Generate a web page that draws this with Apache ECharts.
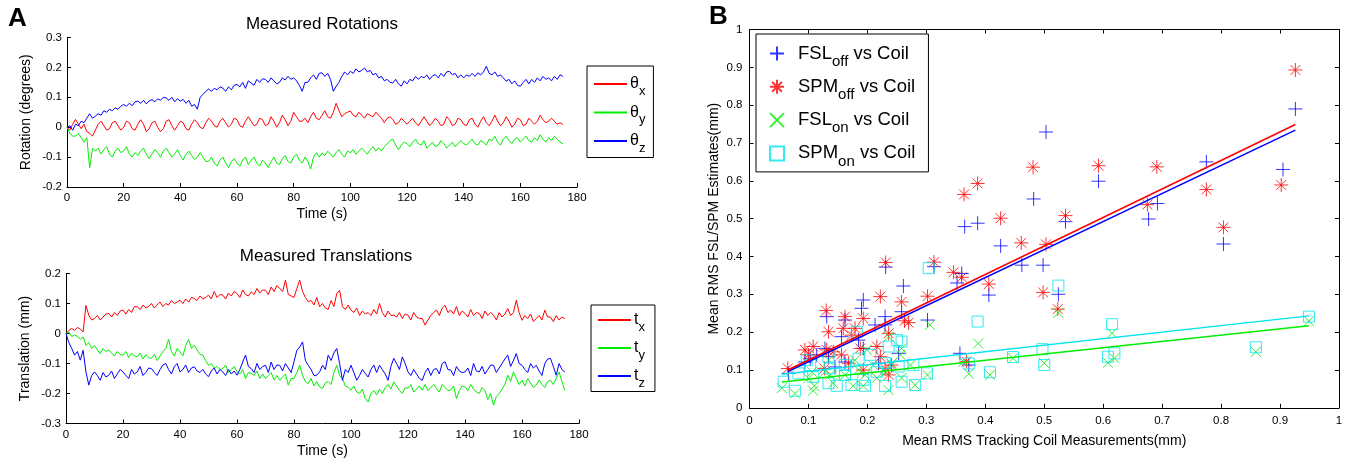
<!DOCTYPE html>
<html><head><meta charset="utf-8">
<script src="https://cdn.jsdelivr.net/npm/echarts@6/dist/echarts.min.js"></script>
<style>html,body{margin:0;padding:0;background:#fff}#c{width:1349px;height:462px}</style>
</head><body><div id="c"></div>
<script>
// ---- Panel A: rotations (degrees), one value per second, t = 0..175 s
const thetaX = [
0,-0.01,0.01,0.026,0.01,-0.005,0.01,-0.015,-0.02,-0.03,
-0.01,0.01,0.02,0.005,-0.01,-0.005,0.015,0.02,0.005,-0.01,
0.0,0.02,0.015,-0.005,-0.01,0.01,0.025,0.01,-0.015,-0.005,
0.015,0.02,0.0,-0.015,-0.005,0.02,0.025,0.005,-0.01,0.005,
0.02,0.015,-0.005,-0.01,0.01,0.025,0.015,0.0,-0.005,0.015,
0.03,0.02,0.005,0.0,0.02,0.03,0.015,0.0,0.01,0.03,
0.025,0.005,0.0,0.02,0.035,0.02,0.005,0.01,0.03,0.025,
0.005,0.01,0.035,0.02,0.0,0.015,0.04,0.025,0.005,0.02,
0.05,0.035,0.02,0.02,0.03,0.015,0.035,0.05,0.03,0.025,
0.04,0.055,0.035,0.03,0.05,0.08,0.055,0.035,0.045,0.05,
0.054,0.04,0.035,0.05,0.04,0.03,0.045,0.04,0.035,0.05,
0.04,0.03,0.015,0.03,0.035,0.026,0.01,0.015,0.03,0.02,
0.01,0.02,0.03,0.015,0.005,0.02,0.035,0.02,0.005,0.015,
0.03,0.02,0.005,0.01,0.035,0.025,0.005,0.01,0.03,0.025,
0.01,0.005,0.025,0.03,0.01,0.0,0.02,0.035,0.015,0.005,
0.02,0.04,0.02,0.005,0.015,0.035,0.02,0.0,0.01,0.03,
0.025,0.005,0.01,0.03,0.02,0.01,0.02,0.04,0.025,0.015,
0.02,0.03,0.02,0.01,0.015,0.009];
const thetaY = [
0,-0.02,-0.03,-0.03,-0.02,-0.035,-0.05,-0.035,-0.136,-0.07,
-0.08,-0.07,-0.09,-0.075,-0.065,-0.09,-0.1,-0.08,-0.07,-0.085,
-0.08,-0.065,-0.09,-0.1,-0.085,-0.095,-0.08,-0.07,-0.09,-0.105,
-0.09,-0.075,-0.085,-0.1,-0.08,-0.07,-0.085,-0.1,-0.09,-0.075,
-0.095,-0.11,-0.09,-0.08,-0.095,-0.108,-0.1,-0.085,-0.1,-0.115,
-0.114,-0.1,-0.12,-0.13,-0.11,-0.1,-0.12,-0.135,-0.115,-0.105,
-0.12,-0.13,-0.11,-0.1,-0.125,-0.11,-0.1,-0.12,-0.13,-0.11,
-0.12,-0.135,-0.115,-0.1,-0.12,-0.125,-0.105,-0.095,-0.115,-0.12,
-0.1,-0.09,-0.11,-0.12,-0.1,-0.115,-0.14,-0.1,-0.085,-0.1,
-0.086,-0.095,-0.08,-0.09,-0.1,-0.085,-0.075,-0.09,-0.1,-0.08,
-0.085,-0.075,-0.09,-0.08,-0.07,-0.08,-0.09,-0.075,-0.065,-0.08,
-0.069,-0.08,-0.065,-0.055,-0.045,-0.04,-0.06,-0.075,-0.06,-0.05,
-0.055,-0.065,-0.05,-0.04,-0.055,-0.06,-0.045,-0.07,-0.06,-0.05,
-0.065,-0.06,-0.045,-0.055,-0.07,-0.06,-0.05,-0.065,-0.055,-0.045,
-0.055,-0.06,-0.05,-0.04,-0.055,-0.06,-0.045,-0.05,-0.06,-0.04,
-0.045,-0.03,-0.05,-0.06,-0.04,-0.03,-0.045,-0.055,-0.04,-0.035,
-0.05,-0.04,-0.03,-0.045,-0.05,-0.035,-0.045,-0.025,-0.04,-0.05,
-0.035,-0.045,-0.03,-0.04,-0.05,-0.055];
const thetaZ = [
0,0.005,-0.01,0.01,0.005,0.02,0.015,0.03,0.045,0.03,
0.037,0.045,0.04,0.055,0.05,0.06,0.055,0.065,0.06,0.07,
0.076,0.07,0.08,0.072,0.085,0.087,0.08,0.09,0.078,0.088,
0.092,0.085,0.095,0.09,0.1,0.098,0.09,0.1,0.085,0.095,
0.087,0.093,0.08,0.09,0.07,0.076,0.06,0.1,0.11,0.12,
0.128,0.12,0.13,0.125,0.135,0.131,0.12,0.135,0.125,0.14,
0.143,0.135,0.15,0.13,0.155,0.148,0.14,0.16,0.15,0.162,
0.16,0.15,0.165,0.155,0.145,0.15,0.165,0.158,0.17,0.16,
0.165,0.155,0.14,0.12,0.15,0.15,0.165,0.175,0.16,0.18,
0.182,0.17,0.18,0.16,0.12,0.137,0.15,0.17,0.185,0.175,
0.187,0.18,0.195,0.185,0.19,0.198,0.185,0.19,0.175,0.18,
0.165,0.17,0.155,0.16,0.15,0.148,0.16,0.145,0.137,0.155,
0.145,0.16,0.155,0.17,0.16,0.17,0.165,0.175,0.16,0.172,
0.176,0.165,0.18,0.17,0.185,0.187,0.175,0.18,0.165,0.175,
0.165,0.175,0.17,0.18,0.17,0.182,0.175,0.185,0.204,0.18,
0.175,0.185,0.17,0.175,0.165,0.154,0.16,0.145,0.155,0.14,
0.137,0.15,0.16,0.145,0.16,0.15,0.165,0.155,0.17,0.16,
0.165,0.155,0.17,0.16,0.175,0.17];
// ---- Panel A: translations (mm)
const transX = [
0,0.01,0.017,0.01,0.02,0.015,0.005,0.094,0.061,0.045,
0.05,0.06,0.045,0.055,0.065,0.067,0.055,0.07,0.06,0.075,
0.078,0.065,0.08,0.07,0.09,0.089,0.08,0.095,0.085,0.09,
0.1,0.085,0.095,0.105,0.09,0.1,0.095,0.11,0.1,0.105,
0.111,0.1,0.115,0.105,0.12,0.117,0.11,0.125,0.115,0.12,
0.128,0.115,0.14,0.12,0.13,0.128,0.115,0.135,0.125,0.14,
0.133,0.12,0.145,0.13,0.125,0.139,0.13,0.15,0.135,0.145,
0.144,0.13,0.155,0.14,0.16,0.15,0.14,0.178,0.13,0.125,
0.12,0.15,0.178,0.14,0.12,0.106,0.11,0.095,0.12,0.089,
0.1,0.085,0.08,0.11,0.09,0.133,0.144,0.09,0.08,0.095,
0.078,0.07,0.085,0.06,0.075,0.065,0.07,0.06,0.08,0.065,
0.1,0.07,0.055,0.075,0.06,0.061,0.055,0.07,0.05,0.065,
0.061,0.045,0.07,0.055,0.05,0.05,0.028,0.045,0.06,0.07,
0.078,0.06,0.085,0.094,0.07,0.078,0.065,0.09,0.06,0.075,
0.067,0.055,0.08,0.06,0.07,0.067,0.05,0.075,0.06,0.07,
0.061,0.045,0.07,0.055,0.065,0.083,0.06,0.07,0.111,0.07,
0.044,0.06,0.05,0.065,0.04,0.05,0.06,0.045,0.078,0.055,
0.055,0.04,0.06,0.045,0.055,0.05];
const transY = [
0,0.005,-0.01,-0.005,-0.01,-0.02,-0.011,-0.04,-0.03,-0.05,
-0.04,-0.055,-0.067,-0.05,-0.06,-0.055,-0.065,-0.075,-0.06,-0.07,
-0.072,-0.06,-0.08,-0.065,-0.075,-0.078,-0.065,-0.085,-0.07,-0.08,
-0.083,-0.07,-0.09,-0.075,-0.06,-0.05,-0.02,-0.06,-0.075,-0.05,
-0.061,-0.075,-0.04,-0.02,-0.05,-0.039,-0.055,-0.07,-0.072,-0.09,
-0.106,-0.1,-0.115,-0.11,-0.12,-0.117,-0.105,-0.13,-0.12,-0.11,
-0.128,-0.135,-0.12,-0.15,-0.13,-0.133,-0.14,-0.125,-0.15,-0.135,
-0.15,-0.14,-0.13,-0.155,-0.14,-0.156,-0.145,-0.135,-0.172,-0.15,
-0.15,-0.13,-0.106,-0.14,-0.16,-0.167,-0.15,-0.175,-0.16,-0.178,
-0.183,-0.165,-0.16,-0.17,-0.13,-0.106,-0.14,-0.15,-0.175,-0.18,
-0.189,-0.175,-0.195,-0.2,-0.185,-0.217,-0.228,-0.2,-0.19,-0.205,
-0.186,-0.2,-0.18,-0.17,-0.185,-0.161,-0.175,-0.19,-0.2,-0.18,
-0.183,-0.17,-0.195,-0.185,-0.175,-0.189,-0.17,-0.19,-0.18,-0.17,
-0.183,-0.195,-0.17,-0.18,-0.19,-0.189,-0.175,-0.217,-0.19,-0.175,
-0.178,-0.19,-0.17,-0.185,-0.195,-0.2,-0.18,-0.19,-0.22,-0.2,
-0.239,-0.21,-0.2,-0.185,-0.17,-0.139,-0.16,-0.128,-0.15,-0.17,
-0.156,-0.175,-0.15,-0.165,-0.18,-0.172,-0.155,-0.17,-0.18,-0.16,
-0.156,-0.17,-0.15,-0.128,-0.16,-0.189];
const transZ = [
0,-0.03,-0.05,-0.072,-0.06,-0.089,-0.056,-0.128,-0.172,-0.14,
-0.128,-0.14,-0.156,-0.13,-0.145,-0.139,-0.125,-0.15,-0.135,-0.12,
-0.128,-0.14,-0.15,-0.12,-0.135,-0.128,-0.11,-0.14,-0.13,-0.115,
-0.117,-0.13,-0.14,-0.12,-0.105,-0.1,-0.12,-0.135,-0.11,-0.1,
-0.128,-0.12,-0.105,-0.13,-0.115,-0.111,-0.125,-0.13,-0.12,-0.135,
-0.144,-0.125,-0.115,-0.135,-0.12,-0.128,-0.14,-0.12,-0.135,-0.125,
-0.139,-0.12,-0.095,-0.072,-0.11,-0.117,-0.13,-0.1,-0.12,-0.11,
-0.106,-0.13,-0.095,-0.12,-0.105,-0.106,-0.125,-0.1,-0.115,-0.13,
-0.094,-0.056,-0.045,-0.028,-0.09,-0.106,-0.12,-0.14,-0.139,-0.128,
-0.106,-0.12,-0.072,-0.09,-0.065,-0.05,-0.1,-0.156,-0.12,-0.13,
-0.106,-0.13,-0.156,-0.14,-0.12,-0.133,-0.145,-0.12,-0.105,-0.13,
-0.106,-0.12,-0.135,-0.156,-0.11,-0.083,-0.1,-0.12,-0.078,-0.1,
-0.128,-0.14,-0.12,-0.135,-0.15,-0.156,-0.13,-0.115,-0.14,-0.12,
-0.117,-0.135,-0.1,-0.094,-0.12,-0.122,-0.14,-0.11,-0.125,-0.13,
-0.128,-0.115,-0.14,-0.1,-0.125,-0.128,-0.11,-0.135,-0.12,-0.105,
-0.106,-0.13,-0.115,-0.1,-0.085,-0.072,-0.11,-0.09,-0.067,-0.1,
-0.106,-0.12,-0.13,-0.1,-0.115,-0.106,-0.125,-0.14,-0.1,-0.085,
-0.083,-0.11,-0.139,-0.1,-0.12,-0.128];
// ---- Panel B: [coil mean RMS, estimate mean RMS] (mm)
const fslOff = [[0.926,0.790],[0.503,0.729],[0.905,0.630],[0.775,0.650],[0.592,0.599],[0.482,0.552],[0.692,0.540],[0.677,0.499],[0.365,0.479],[0.387,0.488],[0.536,0.492],[0.426,0.428],[0.804,0.433],[0.462,0.377],[0.498,0.377],[0.406,0.298],[0.524,0.300],[0.360,0.355],[0.352,0.330],[0.357,0.144],[0.372,0.113],[0.261,0.322],[0.193,0.285],[0.190,0.263],[0.231,0.372],[0.313,0.373],[0.302,0.232],[0.258,0.254],[0.230,0.241],[0.131,0.241],[0.162,0.232],[0.213,0.219],[0.230,0.219],[0.156,0.188],[0.185,0.179],[0.193,0.157],[0.128,0.157],[0.253,0.144],[0.114,0.140],[0.103,0.131],[0.066,0.091],[0.134,0.135],[0.219,0.118],[0.162,0.121],[0.094,0.121],[0.145,0.108]];
const spmOff = [[0.926,0.893],[0.481,0.636],[0.592,0.640],[0.691,0.637],[0.775,0.577],[0.902,0.589],[0.387,0.593],[0.364,0.564],[0.426,0.501],[0.536,0.508],[0.461,0.436],[0.503,0.432],[0.675,0.537],[0.804,0.477],[0.498,0.305],[0.523,0.261],[0.406,0.327],[0.360,0.345],[0.368,0.122],[0.231,0.384],[0.313,0.385],[0.346,0.358],[0.222,0.294],[0.302,0.295],[0.258,0.280],[0.130,0.257],[0.162,0.241],[0.193,0.236],[0.270,0.225],[0.263,0.230],[0.134,0.201],[0.159,0.210],[0.173,0.192],[0.179,0.210],[0.236,0.197],[0.094,0.153],[0.108,0.162],[0.131,0.153],[0.142,0.148],[0.156,0.140],[0.100,0.140],[0.216,0.162],[0.222,0.135],[0.230,0.104],[0.065,0.104],[0.127,0.104],[0.168,0.118],[0.236,0.087],[0.188,0.157],[0.241,0.113],[0.193,0.100]];
const fslOn = [[0.949,0.229],[0.524,0.251],[0.615,0.197],[0.388,0.170],[0.859,0.148],[0.447,0.131],[0.500,0.118],[0.608,0.119],[0.619,0.131],[0.408,0.087],[0.372,0.090],[0.363,0.122],[0.306,0.219],[0.236,0.188],[0.256,0.140],[0.273,0.113],[0.055,0.052],[0.077,0.038],[0.110,0.058],[0.108,0.045],[0.142,0.065],[0.176,0.058],[0.193,0.058],[0.236,0.047],[0.281,0.060],[0.302,0.087],[0.258,0.079],[0.216,0.079],[0.137,0.087],[0.100,0.078],[0.162,0.087],[0.196,0.087],[0.128,0.095],[0.106,0.095],[0.185,0.100],[0.230,0.095],[0.210,0.113],[0.179,0.126],[0.134,0.126],[0.241,0.117],[0.199,0.153],[0.258,0.157]];
const spmOn = [[0.949,0.241],[0.524,0.323],[0.615,0.221],[0.387,0.228],[0.859,0.160],[0.447,0.134],[0.497,0.155],[0.500,0.113],[0.608,0.135],[0.619,0.144],[0.408,0.094],[0.372,0.117],[0.304,0.369],[0.258,0.175],[0.250,0.179],[0.236,0.162],[0.182,0.201],[0.205,0.140],[0.103,0.113],[0.083,0.091],[0.058,0.069],[0.077,0.045],[0.108,0.082],[0.134,0.065],[0.148,0.058],[0.173,0.060],[0.196,0.058],[0.230,0.058],[0.258,0.069],[0.281,0.060],[0.301,0.091],[0.278,0.113],[0.253,0.109],[0.230,0.118],[0.162,0.113],[0.137,0.104],[0.097,0.126],[0.134,0.135],[0.185,0.130],[0.216,0.095],[0.162,0.087],[0.193,0.074]];
// least-squares fit lines (end points)
const fitFslOff = [[0.065,0.096],[0.926,0.734]];
const fitSpmOff = [[0.065,0.100],[0.926,0.749]];
const fitFslOn  = [[0.055,0.068],[0.949,0.217]];
const fitSpmOn  = [[0.055,0.089],[0.949,0.243]];

const FONT = '"Liberation Sans", Arial, Helvetica, sans-serif';
const toXY = arr => arr.map((v, i) => [i, v]);
const RED = '#ff0000', GREEN = '#00ee00', BLUE = '#0000ff', CYAN = '#00e5ee';

function axisBase(extra) {
  return Object.assign({
    type: 'value',
    axisLine: { show: true, onZero: false, lineStyle: { color: '#000', width: 1 } },
    axisTick: { show: true, inside: true, length: 4, lineStyle: { color: '#000' } },
    axisLabel: { color: '#000', fontSize: 11.5, fontFamily: FONT, margin: 5 },
    splitLine: { show: false },
    nameTextStyle: { color: '#000', fontSize: 14, fontFamily: FONT },
    nameLocation: 'middle'
  }, extra);
}
const fmt1 = v => String(+v.toFixed(1));

const subRich = {
  a: { fontSize: 16, fontFamily: FONT, color: '#000' },
  b: { fontSize: 13, fontFamily: FONT, color: '#000', padding: [14, 0, 0, 0] }
};
const legendNames = {
  'θx': '{a|θ}{b|x}', 'θy': '{a|θ}{b|y}', 'θz': '{a|θ}{b|z}',
  'tx': '{a|t}{b|x}', 'ty': '{a|t}{b|y}', 'tz': '{a|t}{b|z}',
  'FSL_off vs Coil': '{c|FSL}{d|off}{c| vs Coil}',
  'SPM_off vs Coil': '{c|SPM}{d|off}{c| vs Coil}',
  'FSL_on vs Coil': '{c|FSL}{d|on}{c| vs Coil}',
  'SPM_on vs Coil': '{c|SPM}{d|on}{c| vs Coil}'
};

function lineSeries(name, data, color, xi, yi) {
  return { name, type: 'line', xAxisIndex: xi, yAxisIndex: yi, data: toXY(data),
    symbol: 'none', lineStyle: { color, width: 1 }, itemStyle: { color },
    silent: true, z: 3 };
}
function scatterSeries(name, data, symbol, size, color) {
  return { name, type: 'scatter', xAxisIndex: 2, yAxisIndex: 2, data, symbol, symbolSize: size,
    itemStyle: { color: 'rgba(0,0,0,0)', borderColor: color, borderWidth: 1, opacity: 0.8 },
    silent: true, z: 3 };
}
function fitSeries(name, data, color) {
  return { name, type: 'line', xAxisIndex: 2, yAxisIndex: 2, data, symbol: 'none',
    lineStyle: { color, width: 1.5 }, silent: true, z: 4 };
}

const PLUS = 'path://M0,10L20,10M10,0L10,20';
const STAR = 'path://M0,10L20,10M10,0L10,20M3,3L17,17M3,17L17,3';
const CROSS = 'path://M0,0L20,20M0,20L20,0';

const lineLegend = {
  orient: 'vertical', itemWidth: 33, itemHeight: 14, borderColor: '#000', borderWidth: 1,
  selectedMode: false, itemStyle: { opacity: 0 },
  formatter: n => legendNames[n], textStyle: { rich: subRich, padding: [0, 0, 0, -2] }
};

const option = {
  animation: false,
  backgroundColor: '#fff',
  textStyle: { fontFamily: FONT },
  grid: [
    { left: 67, top: 37.5, width: 510, height: 149.5 },
    { left: 66, top: 273.5, width: 513, height: 150 },
    { left: 749.5, top: 29.5, width: 589.5, height: 378.3 }
  ],
  xAxis: [
    axisBase({ gridIndex: 0, min: 0, max: 180, interval: 20, name: 'Time (s)', nameGap: 20 }),
    axisBase({ gridIndex: 1, min: 0, max: 180, interval: 20, name: 'Time (s)', nameGap: 21 }),
    axisBase({ gridIndex: 2, min: 0, max: 1, interval: 0.1, name: 'Mean RMS Tracking Coil Measurements(mm)', nameGap: 26, axisLabel: { color: '#000', fontSize: 11.5, fontFamily: FONT, margin: 7, formatter: fmt1 } }),
    axisBase({ gridIndex: 2, min: 0, max: 1, interval: 0.1, position: 'top', axisLabel: { show: false } })
  ],
  yAxis: [
    axisBase({ gridIndex: 0, min: -0.2, max: 0.3, interval: 0.1, name: 'Rotation (degrees)', nameGap: 34, axisLabel: { color: '#000', fontSize: 11.5, fontFamily: FONT, margin: 5, formatter: fmt1 } }),
    axisBase({ gridIndex: 1, min: -0.3, max: 0.2, interval: 0.1, name: 'Translation (mm)', nameGap: 34, axisLabel: { color: '#000', fontSize: 11.5, fontFamily: FONT, margin: 5, formatter: fmt1 } }),
    axisBase({ gridIndex: 2, min: 0, max: 1, interval: 0.1, name: 'Mean RMS FSL/SPM Estimates(mm)', nameGap: 28, axisLabel: { color: '#000', fontSize: 11.5, fontFamily: FONT, margin: 7, formatter: fmt1 } }),
    axisBase({ gridIndex: 2, min: 0, max: 1, interval: 0.1, position: 'right', axisLabel: { show: false } })
  ],
  legend: [
    Object.assign({ data: ['θx', 'θy', 'θz'], left: 587, top: 66, itemGap: 7, padding: [10, 8, 3, 6] }, lineLegend),
    Object.assign({ data: ['tx', 'ty', 'tz'], left: 591, top: 305, itemGap: 6.5, padding: [7, 10, 2, 6] }, lineLegend),
    { data: ['FSL_off vs Coil', 'SPM_off vs Coil', 'FSL_on vs Coil', 'SPM_on vs Coil'], orient: 'vertical',
      left: 756, top: 34, itemWidth: 14, itemHeight: 14, itemGap: 8.3, padding: [10, 13, 3, 13],
      borderColor: '#000', borderWidth: 1, selectedMode: false,
      formatter: n => legendNames[n],
      textStyle: { rich: {
        c: { fontSize: 18.5, fontFamily: FONT, color: '#000' },
        d: { fontSize: 15, fontFamily: FONT, color: '#000', padding: [16, 0, 0, 0] }
      }, padding: [0, 0, 0, 9] } }
  ],
  graphic: [
    { type: 'text', left: 8, top: 6, style: { text: 'A', font: 'bold 26px ' + FONT, fill: '#000' } },
    { type: 'text', left: 709, top: 4, style: { text: 'B', font: 'bold 26px ' + FONT, fill: '#000' } },
    { type: 'text', x: 322, y: 24, style: { text: 'Measured Rotations', font: '17px ' + FONT, fill: '#000', align: 'center', verticalAlign: 'middle' } },
    { type: 'text', x: 326, y: 256, style: { text: 'Measured Translations', font: '17px ' + FONT, fill: '#000', align: 'center', verticalAlign: 'middle' } }
  ],
  series: [
    lineSeries('θx', thetaX, RED, 0, 0),
    lineSeries('θy', thetaY, GREEN, 0, 0),
    lineSeries('θz', thetaZ, BLUE, 0, 0),
    lineSeries('tx', transX, RED, 1, 1),
    lineSeries('ty', transY, GREEN, 1, 1),
    lineSeries('tz', transZ, BLUE, 1, 1),
    scatterSeries('FSL_off vs Coil', fslOff, PLUS, 14, BLUE),
    scatterSeries('SPM_off vs Coil', spmOff, STAR, 14, RED),
    scatterSeries('FSL_on vs Coil', fslOn, CROSS, 10, GREEN),
    scatterSeries('SPM_on vs Coil', spmOn, 'rect', 11, CYAN),
    fitSeries('fitFslOff', fitFslOff, BLUE),
    fitSeries('fitSpmOff', fitSpmOff, RED),
    fitSeries('fitFslOn', fitFslOn, GREEN),
    fitSeries('fitSpmOn', fitSpmOn, CYAN)
  ]
};
const chart = echarts.init(document.getElementById('c'), null, { renderer: 'canvas' });
chart.setOption(option);
</script></body></html>
